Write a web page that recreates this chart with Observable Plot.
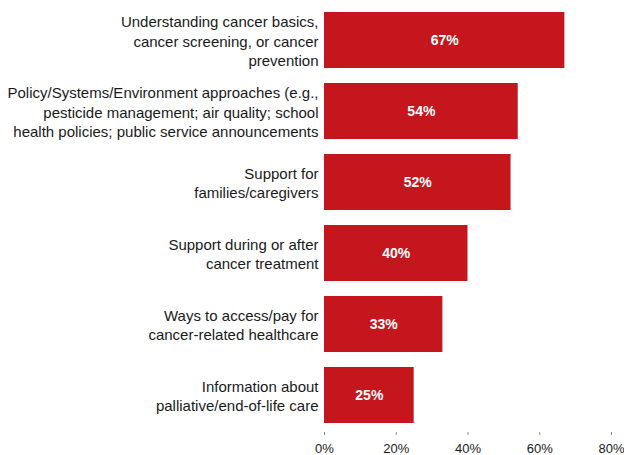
<!DOCTYPE html>
<html>
<head>
<meta charset="utf-8">
<script src="https://cdn.jsdelivr.net/npm/d3@7"></script>
<script src="https://cdn.jsdelivr.net/npm/@observablehq/plot@0.6"></script>
<style>
  html, body { margin: 0; padding: 0; background: #fff; }
  #chart svg { display: block; }
</style>
</head>
<body>
<div id="chart"></div>
<script>
const categories = [
  "Understanding cancer basics,\ncancer screening, or cancer\nprevention",
  "Policy/Systems/Environment approaches (e.g.,\npesticide management; air quality; school\nhealth policies; public service announcements",
  "Support for\nfamilies/caregivers",
  "Support during or after\ncancer treatment",
  "Ways to access/pay for\ncancer-related healthcare",
  "Information about\npalliative/end-of-life care"
];
const values = [67, 54, 52, 40, 33, 25];
const xTicks = [0, 20, 40, 60, 80];

const data = categories.map((c, i) => ({category: c, value: values[i]}));

const chart = Plot.plot({
  width: 624,
  height: 455,
  marginLeft: 324,
  marginRight: 13,
  marginTop: 4,
  marginBottom: 23,
  style: {fontFamily: "'Liberation Sans', Arial, Helvetica, sans-serif", background: "#fff"},
  x: {domain: [0, 80]},
  y: {domain: categories, paddingInner: 0.21, paddingOuter: 0.105},
  marks: [
    Plot.barX(data, {x: "value", y: "category", fill: "#c4161c"}),
    Plot.text(data, {
      x: d => d.value / 2, y: "category",
      text: d => d.value + "%",
      fill: "white", fontWeight: "bold", fontSize: 14
    }),
    Plot.axisY({
      tickSize: 0, tickPadding: 6, fontSize: 15, lineHeight: 1.3,
      fill: "#1a1a1a", label: null
    }),
    Plot.ruleY([0], {frameAnchor: "bottom", stroke: "#888", strokeWidth: 1}),
    Plot.axisX({
      ticks: xTicks, tickFormat: d => d + "%", tickSize: 3, tickPadding: 8,
      fontSize: 13, fill: "#1a1a1a", stroke: "#888", label: null
    })
  ]
});
document.getElementById("chart").appendChild(chart);
</script>
</body>
</html>
